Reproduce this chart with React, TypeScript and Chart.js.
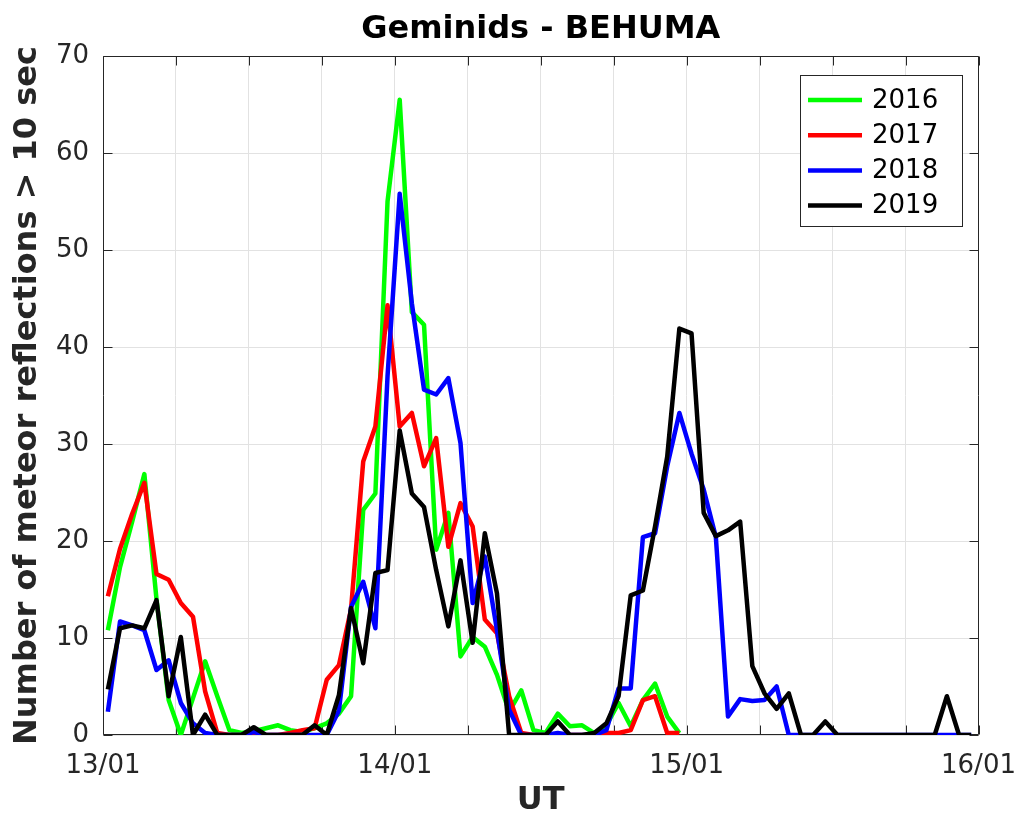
import React, { useEffect, useRef } from 'react';
import { Chart, registerables } from 'chart.js';

Chart.register(...registerables);

// Hour offset of the first sample after 13/01 00:00 (samples are hourly)
const START_HOUR = 0.4;
const X_MAX_HOURS = 72;
const xTickLabels = ['13/01', '14/01', '15/01', '16/01'];
const yTicks = [0, 10, 20, 30, 40, 50, 60, 70];

const seriesNames = ['2016', '2017', '2018', '2019'];
const seriesColors = ['#00ff00', '#ff0000', '#0000ff', '#000000'];

const values2016 = [
  10.8, 17.3, 22.0, 26.9, 14.0, 3.6, 0, 3.8, 7.6, 4.0,
  0.5, 0.2, 0.4, 0.7, 1.0, 0.5, 0.3, 0.7, 1.2, 2.2,
  4.0, 23.2, 24.9, 55.0, 65.5, 43.6, 42.3, 19.1, 22.9, 8.1,
  10.1, 9.1, 6.2, 2.4, 4.6, 0.5, 0.2, 2.2, 0.9, 1.0,
  0.2, 1.0, 3.3, 0.9, 3.6, 5.3, 1.9, 0.2,
];

const values2017 = [
  14.3, 19.2, 22.8, 26.0, 16.6, 16.0, 13.6, 12.2, 4.5, 0.2,
  0, 0, 0, 0, 0, 0.2, 0.5, 0.7, 5.7, 7.2,
  13.0, 28.2, 31.8, 44.3, 31.8, 33.2, 27.7, 30.6, 19.4, 23.9,
  21.5, 11.9, 10.5, 4.0, 0.2, 0, 0, 0, 0, 0,
  0, 0.2, 0.2, 0.5, 3.6, 4.0, 0.2, 0.2,
];

const values2018 = [
  2.4, 11.7, 11.3, 10.8, 6.7, 7.7, 3.3, 1.2, 0.2, 0,
  0, 0, 0.3, 0, 0, 0, 0, 0, 0, 2.5,
  13.2, 15.8, 11.0, 37.0, 55.8, 44.5, 35.6, 35.1, 36.8, 30.1,
  13.6, 18.4, 10.8, 2.6, 0, 0, 0, 0.2, 0, 0,
  0, 0.5, 4.8, 4.8, 20.4, 20.8, 27.7, 33.2, 29.0, 25.3,
  20.4, 1.9, 3.7, 3.5, 3.6, 5.0, 0, 0, 0, 0,
  0, 0, 0, 0, 0, 0, 0, 0, 0, 0,
  0, 0,
];

const values2019 = [
  4.7, 11.0, 11.3, 11.0, 13.9, 4.0, 10.1, 0, 2.1, 0,
  0, 0, 0.8, 0, 0, 0, 0, 1.0, 0, 4.1,
  13.1, 7.4, 16.7, 17.0, 31.4, 24.9, 23.5, 17.0, 11.2, 18.0,
  9.5, 20.8, 14.6, 0, 0, 0, 0, 1.4, 0, 0,
  0.2, 1.2, 4.0, 14.4, 14.9, 21.5, 28.7, 41.9, 41.4, 22.9,
  20.5, 21.1, 22.0, 7.1, 4.3, 2.7, 4.3, 0, 0, 1.4,
  0, 0, 0, 0, 0, 0, 0, 0, 0, 4.0,
  0, 0,
];

const allSeries = [values2016, values2017, values2018, values2019];

const FONT = "'DejaVu Sans', sans-serif";
const AXIS_COLOR = '#262626';

const decorPlugin = {
  id: 'decor',
  beforeDatasetsDraw(chart: any) {
    const { ctx, chartArea, scales } = chart;
    const { left, right, top, bottom } = chartArea;
    const x = scales.x;
    const y = scales.y;
    ctx.save();
    ctx.strokeStyle = AXIS_COLOR;
    ctx.lineWidth = 1;
    const L = Math.round(left) + 0.5;
    const R = Math.round(right) - 0.5;
    const T = Math.round(top) + 0.5;
    const B = Math.round(bottom) - 0.5;
    ctx.beginPath();
    ctx.rect(L, T, R - L, B - T);
    ctx.stroke();
    const tl = 9;
    ctx.beginPath();
    for (let h = 0; h <= X_MAX_HOURS; h += 6) {
      const px = Math.round(x.getPixelForValue(h)) + 0.5;
      ctx.moveTo(px, B);
      ctx.lineTo(px, B - tl);
      ctx.moveTo(px, T);
      ctx.lineTo(px, T + tl);
    }
    for (const v of yTicks) {
      const py = Math.round(y.getPixelForValue(v)) + 0.5;
      ctx.moveTo(L, py);
      ctx.lineTo(L + tl, py);
      ctx.moveTo(R, py);
      ctx.lineTo(R - tl, py);
    }
    ctx.stroke();
    ctx.restore();
  },
  afterDraw(chart: any) {
    const { ctx, chartArea } = chart;
    const { left, right, top, bottom } = chartArea;
    const cx = (left + right) / 2;
    ctx.save();
    // Title
    ctx.fillStyle = '#000000';
    ctx.font = `bold 32px ${FONT}`;
    ctx.textAlign = 'center';
    ctx.textBaseline = 'middle';
    ctx.fillText('Geminids - BEHUMA', cx, 30);
    // X label
    ctx.fillStyle = AXIS_COLOR;
    ctx.fillText('UT', cx, 801);
    // Y label
    ctx.save();
    ctx.translate(28, (top + bottom) / 2);
    ctx.rotate(-Math.PI / 2);
    ctx.fillText('Number of meteor reflections > 10 sec', 0, 0);
    ctx.restore();

    // Legend
    const bx = 800, by = 75, bw = 162, bh = 151;
    ctx.fillStyle = '#ffffff';
    ctx.fillRect(bx, by, bw, bh);
    ctx.strokeStyle = AXIS_COLOR;
    ctx.lineWidth = 1;
    ctx.strokeRect(bx + 0.5, by + 0.5, bw, bh);
    ctx.font = `26px ${FONT}`;
    ctx.textAlign = 'left';
    ctx.textBaseline = 'middle';
    for (let i = 0; i < seriesNames.length; i++) {
      const yy = 100 + i * 35.2;
      ctx.strokeStyle = seriesColors[i];
      ctx.lineWidth = 4.5;
      ctx.beginPath();
      ctx.moveTo(808, yy);
      ctx.lineTo(862, yy);
      ctx.stroke();
      ctx.fillStyle = '#000000';
      ctx.fillText(seriesNames[i], 872, yy + 1);
    }
    ctx.restore();
  },
};

export default function App() {
  const canvasRef = useRef<HTMLCanvasElement | null>(null);

  useEffect(() => {
    document.body.style.margin = '0';
    const canvas = canvasRef.current;
    if (!canvas) return;

    const datasets = allSeries.map((vals, si) => ({
      label: seriesNames[si],
      data: vals.map((v, i) => ({ x: START_HOUR + i, y: v })),
      borderColor: seriesColors[si],
      backgroundColor: seriesColors[si],
      borderWidth: 4.5,
      pointRadius: 0,
      tension: 0,
      fill: false,
      borderJoinStyle: 'round' as const,
      borderCapStyle: 'butt' as const,
      order: seriesNames.length - si,
    }));

    const chart = new Chart(canvas, {
      type: 'line',
      data: { datasets },
      options: {
        animation: false,
        responsive: false,
        devicePixelRatio: 1,
        layout: { padding: { left: 0, top: 56, right: 41.5, bottom: 0 } },
        plugins: {
          legend: { display: false },
          title: { display: false },
          tooltip: { enabled: false },
        },
        scales: {
          x: {
            type: 'linear',
            min: 0,
            max: X_MAX_HOURS,
            afterFit: (scale: any) => {
              scale.height = 79;
              scale.paddingLeft = 0;
              scale.paddingRight = 0;
            },
            grid: { color: '#e2e2e2', lineWidth: 1, drawTicks: false },
            border: { display: false },
            ticks: {
              stepSize: 6,
              autoSkip: false,
              maxRotation: 0,
              padding: 16,
              color: AXIS_COLOR,
              font: { family: FONT, size: 26 },
              callback: (v: any) => {
                const n = Number(v);
                return n % 24 === 0 ? xTickLabels[n / 24] : '';
              },
            },
          },
          y: {
            type: 'linear',
            min: 0,
            max: 70,
            afterFit: (scale: any) => {
              scale.width = 103;
              scale.paddingTop = 0;
              scale.paddingBottom = 0;
            },
            grid: { color: '#e2e2e2', lineWidth: 1, drawTicks: false },
            border: { display: false },
            ticks: {
              stepSize: 10,
              padding: 14,
              color: AXIS_COLOR,
              font: { family: FONT, size: 26 },
            },
          },
        },
      },
      plugins: [decorPlugin],
    });

    return () => {
      chart.destroy();
    };
  }, []);

  return (
    <div style={{ width: 1020, height: 814 }}>
      <canvas ref={canvasRef} width={1020} height={814} style={{ display: 'block', width: 1020, height: 814 }} />
    </div>
  );
}
